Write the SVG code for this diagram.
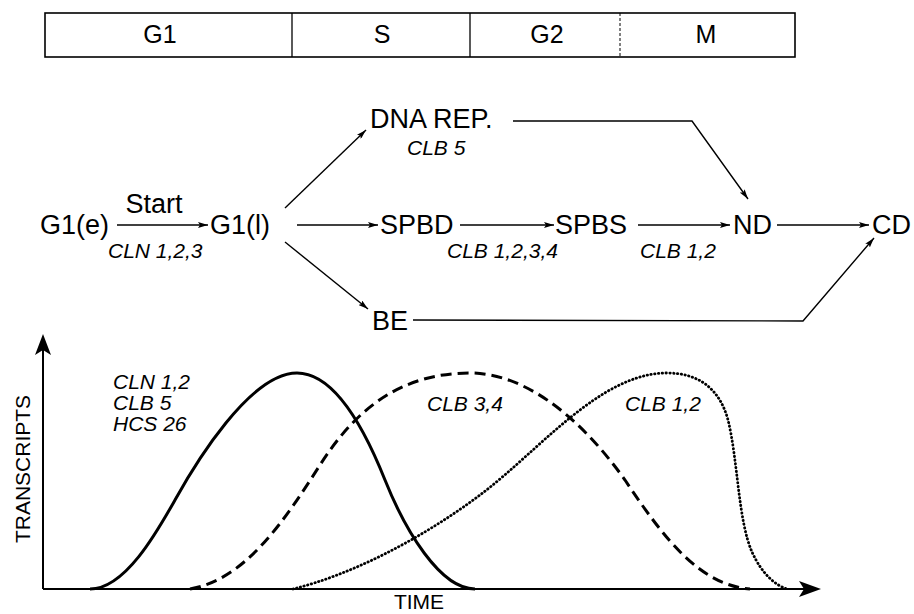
<svg xmlns="http://www.w3.org/2000/svg" width="914" height="614" viewBox="0 0 914 614">
  <defs>
    <style>
      text { font-family: "Liberation Sans", Arial, Helvetica, sans-serif; fill: #000; }
      .node { font-size: 27px; }
      .phase { font-size: 25px; }
      .gene { font-size: 21px; font-style: italic; }
      .axis-label { font-size: 21px; }
      .conn { fill: none; stroke: #000; stroke-width: 1.4; }
      .axis { fill: none; stroke: #000; stroke-width: 2; }
      .curve { fill: none; stroke: #000; stroke-width: 3; }
      .clb34 { stroke-dasharray: 11 6; }
      .clb12 { stroke-width: 2.8; stroke-linecap: round; stroke-dasharray: 0.4 3.4; }
    </style>
    <marker id="arrow" viewBox="0 0 10 6" refX="10" refY="3" markerWidth="10" markerHeight="6" markerUnits="userSpaceOnUse" orient="auto">
      <path d="M0,0 L10,3 L0,6 L2,3 Z" fill="#000"/>
    </marker>
  </defs>

  <!-- cell-cycle phase bar -->
  <g id="phase-bar">
    <rect x="45" y="13" width="750" height="44" fill="#fff" stroke="#000" stroke-width="1.6"/>
    <line x1="292" y1="13" x2="292" y2="57" stroke="#000" stroke-width="1.3"/>
    <line x1="470" y1="13" x2="470" y2="57" stroke="#000" stroke-width="1.3"/>
    <line x1="620" y1="13" x2="620" y2="57" stroke="#000" stroke-width="1" stroke-dasharray="3 2"/>
    <text class="phase" x="160" y="43" text-anchor="middle">G1</text>
    <text class="phase" x="382" y="43" text-anchor="middle">S</text>
    <text class="phase" x="547" y="43" text-anchor="middle">G2</text>
    <text class="phase" x="706" y="43" text-anchor="middle">M</text>
  </g>

  <!-- pathway nodes -->
  <g id="g1e"><text class="node" x="40" y="234">G1(e)</text></g>
  <g id="g1l"><text class="node" x="210" y="234">G1(l)</text></g>
  <g id="dna-rep"><text class="node" x="370" y="128">DNA REP.</text></g>
  <g id="spbd"><text class="node" x="380" y="234">SPBD</text></g>
  <g id="spbs"><text class="node" x="555" y="234">SPBS</text></g>
  <g id="nd"><text class="node" x="733" y="234">ND</text></g>
  <g id="cd"><text class="node" x="872" y="234">CD</text></g>
  <g id="be"><text class="node" x="372" y="330">BE</text></g>

  <!-- pathway connectors -->
  <g id="connectors">
    <line class="conn" x1="117" y1="225" x2="208" y2="225" marker-end="url(#arrow)"/>
    <line class="conn" x1="297" y1="225" x2="378" y2="225" marker-end="url(#arrow)"/>
    <line class="conn" x1="460" y1="225" x2="554" y2="225" marker-end="url(#arrow)"/>
    <line class="conn" x1="638" y1="225" x2="730" y2="225" marker-end="url(#arrow)"/>
    <line class="conn" x1="777" y1="225" x2="869" y2="225" marker-end="url(#arrow)"/>
    <line class="conn" x1="285" y1="208" x2="366" y2="130" marker-end="url(#arrow)"/>
    <line class="conn" x1="285" y1="242" x2="368" y2="309" marker-end="url(#arrow)"/>
    <polyline class="conn" points="513,121 692,121 748,199" marker-end="url(#arrow)"/>
    <polyline class="conn" points="413,320 803,321 874,238" marker-end="url(#arrow)"/>
  </g>

  <!-- connector labels -->
  <g id="connector-labels">
    <text class="node" x="154" y="213" text-anchor="middle">Start</text>
    <text class="gene" x="108" y="258">CLN 1,2,3</text>
    <text class="gene" x="407" y="155">CLB 5</text>
    <text class="gene" x="447" y="258">CLB 1,2,3,4</text>
    <text class="gene" x="640" y="258">CLB 1,2</text>
  </g>

  <!-- transcript plot -->
  <g id="plot">
    <line class="axis" x1="43" y1="589" x2="43" y2="350"/>
    <path d="M43,334 L51,355 L43,350 L35,355 Z" fill="#000"/>
    <line class="axis" x1="43" y1="589" x2="804" y2="589"/>
    <path d="M821,589 L799,581 L804,589 L799,597 Z" fill="#000"/>

    <text class="axis-label" transform="translate(30,469) rotate(-90)" text-anchor="middle">TRANSCRIPTS</text>
    <text class="axis-label" x="419" y="609" text-anchor="middle">TIME</text>

    <path class="curve" d="M90,589 C125,589 157,532 175,500 C195,464 250,373 297,373 C335,373 365,430 385,480 C405,530 440,589 475,589"/>
    <path class="curve clb34" d="M190,589 C245,580 285,520 320,465 C355,410 400,373 470,373 C520,373 575,410 625,480 C665,540 700,585 750,589"/>
    <path class="curve clb12" d="M293,589 C350,575 420,540 480,495 C540,450 600,373 667,373 C700,373 720,390 728,420 C738,460 738,520 752,552 C762,574 775,585 787,589"/>

    <text class="gene" x="113" y="389">CLN 1,2</text>
    <text class="gene" x="113" y="410">CLB 5</text>
    <text class="gene" x="113" y="431">HCS 26</text>
    <text class="gene" x="427" y="411">CLB 3,4</text>
    <text class="gene" x="625" y="411">CLB 1,2</text>
  </g>
</svg>
